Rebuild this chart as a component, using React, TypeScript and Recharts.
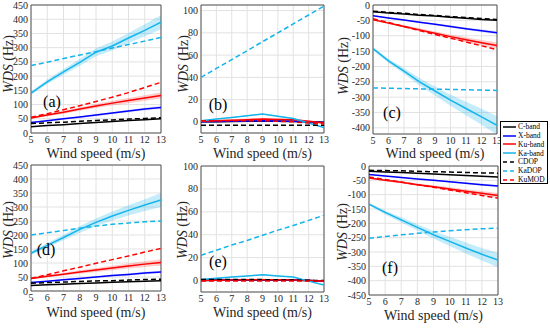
import React from "react";
import {
  ComposedChart,
  Line,
  Area,
  XAxis,
  YAxis,
  CartesianGrid,
  ReferenceArea,
} from "recharts";

const SERIF = "'Liberation Serif', 'Times New Roman', serif";

const speeds = [5, 6, 7, 8, 9, 10, 11, 12, 13];

// panel (a)
const cBandA = [22, 26, 29, 33, 37, 40, 44, 47, 50];
const xBandA = [37, 43, 50, 56, 63, 70, 77, 84, 90];
const kuBandA = [53, 63, 73, 84, 95, 105, 114, 123, 132];
const kaBandA = [140, 180, 215, 248, 284, 306, 334, 361, 390];
const cdopA = [33, 36, 38, 41, 44, 46, 49, 51, 54];
const kadopA = [237, 249, 262, 274, 286, 299, 311, 323, 336];
const kumodA = [55, 68, 82, 96, 111, 126, 142, 160, 178];
const xSpreadA = [2, 2, 3, 3, 4, 4, 5, 5, 6];
const kuSpreadA = [3, 4, 5, 6, 7, 8, 9, 10, 11];
const kaSpreadA = [6, 8, 10, 12, 14, 16, 18, 21, 25];

// panel (b)
const cBandB = [0, 0.2, 0.4, 0.5, 0.6, 0.5, 0.3, 0, -0.3];
const xBandB = [0, 0.3, 0.6, 0.8, 1, 0.8, 0.5, 0, -0.5];
const kuBandB = [0.5, 1, 1.5, 2, 2.5, 2.2, 1.8, 0.5, -1];
const kaBandB = [1, 2.5, 4, 5.5, 7, 5, 3, -1, -5];
const cdopB = [-3, -3, -3, -3, -3, -3, -3, -3, -3];
const kadopB = [40, 48, 56, 64, 72, 80, 88, 96, 104];
const kumodB = [1, 1, 1, 1, 1, 0.5, 0, -1, -2];
const xSpreadB = [0.3, 0.3, 0.3, 0.3, 0.3, 0.3, 0.3, 0.3, 0.3];
const kuSpreadB = [1, 1, 1, 1, 1, 1, 1, 1, 1];
const kaSpreadB = [0.4, 0.4, 0.4, 0.4, 0.4, 0.4, 0.4, 0.4, 0.4];

// panel (c)
const cBandC = [-22, -26, -29, -33, -36, -40, -43, -47, -50];
const xBandC = [-35, -42, -49, -56, -63, -70, -77, -84, -90];
const kuBandC = [-48, -59, -70, -81, -92, -103, -113, -123, -132];
const kaBandC = [-142, -182, -215, -250, -280, -310, -337, -364, -392];
const cdopC = [-20, -24, -27, -31, -34, -38, -41, -44, -47];
const kadopC = [-270, -271, -272, -273, -274, -275, -276, -277, -278];
const kumodC = [-45, -57, -70, -83, -96, -108, -120, -133, -145];
const xSpreadC = [1, 2, 2, 3, 3, 4, 4, 5, 5];
const kuSpreadC = [2, 3, 4, 5, 6, 7, 8, 9, 10];
const kaSpreadC = [5, 7, 9, 12, 15, 18, 22, 26, 30];

// panel (d)
const cBandD = [20, 22, 24, 27, 29, 31, 33, 35, 37];
const xBandD = [30, 35, 40, 45, 50, 55, 59, 64, 68];
const kuBandD = [45, 53, 60, 68, 75, 82, 89, 96, 102];
const kaBandD = [135, 163, 191, 220, 245, 268, 288, 307, 325];
const cdopD = [28, 30, 32, 34, 36, 37, 39, 41, 42];
const kadopD = [200, 208, 216, 224, 232, 238, 243, 247, 250];
const kumodD = [45, 58, 72, 85, 99, 112, 125, 139, 152];
const xSpreadD = [2, 2, 3, 3, 3, 4, 4, 5, 5];
const kuSpreadD = [3, 4, 5, 6, 7, 8, 9, 10, 11];
const kaSpreadD = [6, 8, 10, 12, 14, 16, 18, 21, 25];

// panel (e)
const cBandE = [0.5, 0.5, 0.5, 0.5, 0.5, 0.4, 0.3, 0, -0.3];
const xBandE = [0, 0.2, 0.4, 0.6, 0.8, 0.6, 0.4, 0, -0.5];
const kuBandE = [0, 0.2, 0.4, 0.6, 0.8, 0.6, 0.4, 0, -0.5];
const kaBandE = [1, 2, 3, 4, 5, 4, 3, -0.5, -4];
const cdopE = [1, 1, 1, 1, 0.8, 0.6, 0.4, 0.2, 0];
const kadopE = [22, 26.5, 31, 35, 39.5, 44, 48, 52.5, 57];
const kumodE = [-0.5, -0.5, -0.5, -0.5, -0.5, -0.5, -0.5, -0.5, -0.5];
const xSpreadE = [0.3, 0.3, 0.3, 0.3, 0.3, 0.3, 0.3, 0.3, 0.3];
const kuSpreadE = [0.8, 0.8, 0.8, 0.8, 0.8, 0.8, 0.8, 0.8, 0.8];
const kaSpreadE = [0.4, 0.4, 0.4, 0.4, 0.4, 0.4, 0.4, 0.4, 0.4];

// panel (f)
const cBandF = [-18, -20.5, -23, -25.5, -28, -30.5, -33, -35.5, -38];
const xBandF = [-30, -35, -40, -45, -50, -55, -60, -65, -70];
const kuBandF = [-42, -50, -57, -65, -72, -80, -88, -95, -103];
const kaBandF = [-133, -162, -188, -214, -240, -263, -286, -308, -328];
const cdopF = [-15, -16, -17, -18.5, -20, -21, -22.5, -24, -25];
const kadopF = [-252, -246, -240, -235, -230, -226, -222, -219, -217];
const kumodF = [-38, -47, -56, -65, -74, -84, -93, -103, -112];
const xSpreadF = [1, 1, 2, 2, 3, 3, 3, 4, 4];
const kuSpreadF = [2, 3, 3, 4, 5, 6, 7, 8, 9];
const kaSpreadF = [5, 7, 9, 11, 13, 16, 19, 22, 25];

const ticksPos = [0, 50, 100, 150, 200, 250, 300, 350, 400, 450];
const ticksSmall = [0, 20, 40, 60, 80, 100];
const ticksNeg400 = [0, -50, -100, -150, -200, -250, -300, -350, -400];
const ticksNeg450 = [0, -50, -100, -150, -200, -250, -300, -350, -400, -450];

const legendNames = ["C-band", "X-band", "Ku-band", "Ka-band", "CDOP", "KaDOP", "KuMOD"];

const BLACK = "#000000";
const BLUE = "#0000ff";
const RED = "#ff0000";
const CYAN = "#14b4ec";

interface Box {
  l: number;
  t: number;
  r: number;
  b: number;
}

interface PanelSpec {
  tag: string;
  c: number[];
  x: number[];
  ku: number[];
  ka: number[];
  cdop: number[];
  kadop: number[];
  kumod: number[];
  xs: number[];
  kus: number[];
  kas: number[];
  domain: [number, number];
  yTicks: number[];
  box: Box;
  yw: number;
  ylab: [number, number];
  tagAt: [number, number];
  titleY: number;
}

const panels: PanelSpec[] = [
  {
    tag: "(a)", c: cBandA, x: xBandA, ku: kuBandA, ka: kaBandA, cdop: cdopA, kadop: kadopA, kumod: kumodA,
    xs: xSpreadA, kus: kuSpreadA, kas: kaSpreadA, domain: [0, 450], yTicks: ticksPos,
    box: { l: 31, t: 5, r: 161, b: 133 }, yw: 26, ylab: [9, 64], tagAt: [52, 102], titleY: 154,
  },
  {
    tag: "(b)", c: cBandB, x: xBandB, ku: kuBandB, ka: kaBandB, cdop: cdopB, kadop: kadopB, kumod: kumodB,
    xs: xSpreadB, kus: kuSpreadB, kas: kaSpreadB, domain: [-10, 105], yTicks: ticksSmall,
    box: { l: 201, t: 5, r: 324, b: 133 }, yw: 26, ylab: [184, 64], tagAt: [218, 105], titleY: 154,
  },
  {
    tag: "(c)", c: cBandC, x: xBandC, ku: kuBandC, ka: kaBandC, cdop: cdopC, kadop: kadopC, kumod: kumodC,
    xs: xSpreadC, kus: kuSpreadC, kas: kaSpreadC, domain: [-420, 0], yTicks: ticksNeg400,
    box: { l: 373, t: 5, r: 497, b: 134 }, yw: 26, ylab: [344, 66], tagAt: [392, 113], titleY: 154,
  },
  {
    tag: "(d)", c: cBandD, x: xBandD, ku: kuBandD, ka: kaBandD, cdop: cdopD, kadop: kadopD, kumod: kumodD,
    xs: xSpreadD, kus: kuSpreadD, kas: kaSpreadD, domain: [0, 450], yTicks: ticksPos,
    box: { l: 31, t: 165, r: 161, b: 291 }, yw: 26, ylab: [9, 230], tagAt: [46, 250], titleY: 313,
  },
  {
    tag: "(e)", c: cBandE, x: xBandE, ku: kuBandE, ka: kaBandE, cdop: cdopE, kadop: kadopE, kumod: kumodE,
    xs: xSpreadE, kus: kuSpreadE, kas: kaSpreadE, domain: [-10, 100], yTicks: ticksSmall,
    box: { l: 201, t: 166, r: 324, b: 292 }, yw: 26, ylab: [183, 230], tagAt: [218, 262], titleY: 313,
  },
  {
    tag: "(f)", c: cBandF, x: xBandF, ku: kuBandF, ka: kaBandF, cdop: cdopF, kadop: kadopF, kumod: kumodF,
    xs: xSpreadF, kus: kuSpreadF, kas: kaSpreadF, domain: [-450, 0], yTicks: ticksNeg450,
    box: { l: 369, t: 166, r: 498, b: 295 }, yw: 26, ylab: [343, 232], tagAt: [390, 268], titleY: 316,
  },
];

const tickStyle = { fontSize: 10, fill: "#262626", fontFamily: SERIF };

function Panel({ p }: { p: PanelSpec }) {
  const rows = speeds.map((s, i) => ({
    s,
    c: p.c[i],
    x: p.x[i],
    ku: p.ku[i],
    ka: p.ka[i],
    cdop: p.cdop[i],
    kadop: p.kadop[i],
    kumod: p.kumod[i],
    xRange: [p.x[i] - p.xs[i], p.x[i] + p.xs[i]],
    kuRange: [p.ku[i] - p.kus[i], p.ku[i] + p.kus[i]],
    kaRange: [p.ka[i] - p.kas[i], p.ka[i] + p.kas[i]],
  }));
  const { l, t, r, b } = p.box;
  const mt = 6;
  const mr = 8;
  const w = r - l + p.yw + mr;
  const h = b - t + mt + 14;
  const lw = 1.5;
  return (
    <>
      <div style={{ position: "absolute", left: l - p.yw, top: t - mt }}>
        <ComposedChart width={w} height={h} data={rows} margin={{ top: mt, right: mr, left: 0, bottom: 0 }}>
          <CartesianGrid stroke="#e2e2e2" />
          <XAxis
            dataKey="s"
            type="number"
            domain={[5, 13]}
            ticks={speeds}
            interval={0}
            tickSize={0}
            tickMargin={3}
            height={14}
            axisLine={false}
            tick={tickStyle}
            allowDataOverflow
          />
          <YAxis
            type="number"
            domain={p.domain}
            ticks={p.yTicks}
            interval={0}
            width={p.yw}
            tickSize={0}
            tickMargin={3}
            axisLine={false}
            tick={tickStyle}
            allowDataOverflow
          />
          <Area dataKey="xRange" fill={BLUE} fillOpacity={0.12} stroke="none" isAnimationActive={false} />
          <Area dataKey="kuRange" fill={RED} fillOpacity={0.2} stroke="none" isAnimationActive={false} />
          <Area dataKey="kaRange" fill={CYAN} fillOpacity={0.25} stroke="none" isAnimationActive={false} />
          <Line dataKey="c" stroke={BLACK} strokeWidth={lw} dot={false} isAnimationActive={false} />
          <Line dataKey="x" stroke={BLUE} strokeWidth={lw} dot={false} isAnimationActive={false} />
          <Line dataKey="ku" stroke={RED} strokeWidth={lw} dot={false} isAnimationActive={false} />
          <Line dataKey="ka" stroke={CYAN} strokeWidth={lw} dot={false} isAnimationActive={false} />
          <Line dataKey="cdop" stroke={BLACK} strokeWidth={lw} strokeDasharray="5 3" dot={false} isAnimationActive={false} />
          <Line dataKey="kadop" stroke={CYAN} strokeWidth={lw} strokeDasharray="5 3" dot={false} isAnimationActive={false} />
          <Line dataKey="kumod" stroke={RED} strokeWidth={lw} strokeDasharray="5 3" dot={false} isAnimationActive={false} />
          <ReferenceArea
            x1={5}
            x2={13}
            y1={p.domain[0]}
            y2={p.domain[1]}
            fill="none"
            stroke="#555555"
            strokeWidth={1}
            ifOverflow="visible"
          />
        </ComposedChart>
      </div>
      <div
        style={{
          position: "absolute",
          left: p.ylab[0],
          top: p.ylab[1],
          transform: "translate(-50%, -50%) rotate(-90deg)",
          whiteSpace: "nowrap",
          fontFamily: SERIF,
          fontSize: 14,
          color: "#262626",
          lineHeight: 1,
        }}
      >
        <i>WDS</i> (Hz)
      </div>
      <div
        style={{
          position: "absolute",
          left: (l + r) / 2,
          top: p.titleY,
          transform: "translate(-50%, -50%)",
          whiteSpace: "nowrap",
          fontFamily: SERIF,
          fontSize: 14,
          color: "#262626",
          lineHeight: 1,
        }}
      >
        Wind speed (m/s)
      </div>
      <div
        style={{
          position: "absolute",
          left: p.tagAt[0],
          top: p.tagAt[1],
          transform: "translate(-50%, -50%)",
          fontFamily: SERIF,
          fontSize: 16,
          color: "#000",
          lineHeight: 1,
        }}
      >
        {p.tag}
      </div>
    </>
  );
}

const legendColors = [BLACK, BLUE, RED, CYAN, BLACK, CYAN, RED];
const legendDashed = [false, false, false, false, true, true, true];

function Legend() {
  return (
    <div
      style={{
        position: "absolute",
        left: 500,
        top: 121,
        width: 48,
        height: 63,
        border: "1px solid #000",
        background: "#fff",
        boxSizing: "border-box",
        paddingTop: 0.5,
      }}
    >
      {legendNames.map((name, i) => (
        <div key={name} style={{ display: "flex", alignItems: "center", height: 8.8, whiteSpace: "nowrap" }}>
          <svg width={14} height={6} style={{ marginLeft: 2, flexShrink: 0 }}>
            <line
              x1={0}
              y1={3}
              x2={13}
              y2={3}
              stroke={legendColors[i]}
              strokeWidth={1.5}
              strokeDasharray={legendDashed[i] ? "4 3" : undefined}
            />
          </svg>
          <span style={{ fontFamily: SERIF, fontSize: 7.5, color: "#000", lineHeight: 1, marginLeft: 1 }}>{name}</span>
        </div>
      ))}
    </div>
  );
}

export default function App() {
  return (
    <div style={{ position: "absolute", left: 0, top: 0, width: 550, height: 328, background: "#fff" }}>
      {panels.map((p) => (
        <Panel key={p.tag} p={p} />
      ))}
      <Legend />
    </div>
  );
}
